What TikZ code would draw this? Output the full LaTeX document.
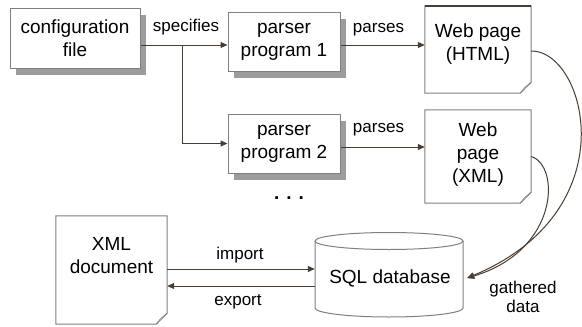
\documentclass[tikz,border=0pt]{standalone}
\usepackage{fontspec}
\setmainfont{Liberation Sans}
\usetikzlibrary{arrows.meta,calc,shadows}
\definecolor{edge}{HTML}{808080}
\definecolor{arr}{HTML}{4A3D33}
\definecolor{shad}{HTML}{9C9C9C}
\newcommand\mydoc[1]{%
  \filldraw[draw=edge, fill=white, line width=1pt] (#1.north west) -- (#1.north east) -- ($(#1.south east)+(0,-11)$) -- ($(#1.south east)+(-11,0)$) -- (#1.south west) -- cycle;
  \filldraw[draw=edge, fill=white, line width=0.8pt] ($(#1.south east)+(0,-11)$) -- ($(#1.south east)+(-7,-5)$) -- ($(#1.south east)+(-11,0)$);}
\begin{document}
\begin{tikzpicture}[x=1pt,y=-1pt,
  boxtxt/.style={font=\fontsize{19}{23}\selectfont, align=center},
  lbl/.style={font=\fontsize{17}{19}\selectfont, align=center},
  boxnode/.style={draw=edge, line width=1pt, fill=white, inner sep=0pt, boxtxt,
    drop shadow={shadow xshift=6pt, shadow yshift=-7pt, fill=shad, opacity=1}},
  area/.style={inner sep=0pt, draw=none},
  conn/.style={draw=arr, line width=1pt, -{Triangle[length=7pt,width=6pt]}},
]
\useasboundingbox[fill=white] (0,0) rectangle (582,327);

% boxes with shadows
\node[boxnode, minimum width=130pt, minimum height=60pt] (conf) at (75,38) {configuration\\file};
\node[boxnode, minimum width=112pt, minimum height=59pt] (p1) at (284,41.5) {parser\\program 1};
\node[boxnode, minimum width=112pt, minimum height=59pt] (p2) at (284,143.5) {parser\\program 2};

% documents
\node[area, minimum width=106pt, minimum height=87pt] (web1) at (478,49.5) {};
\mydoc{web1}
\draw[arr, line width=1.8pt] (web1.north west) -- (web1.north east);
\node[boxtxt] (web1t) at (478,44) {Web page\\(HTML)};

\node[area, minimum width=106pt, minimum height=93pt] (web2) at (478,156.5) {};
\mydoc{web2}
\node[boxtxt] (web2t) at (478,155) {Web\\page\\(XML)};

\node[area, minimum width=111pt, minimum height=108pt] (xml) at (111.5,270) {};
\mydoc{xml}
\node[boxtxt] (xmlt) at (111.5,256) {XML\\document};

% database cylinder
\node[area, minimum width=148pt, minimum height=85pt] (sql) at (389,274.5) {};
\filldraw[draw=edge, fill=white, line width=1pt] (315,241) -- (315,308)
  arc[start angle=180, end angle=360, x radius=74pt, y radius=9pt] -- (463,241);
\draw[edge, line width=1pt] (389,241) ellipse [x radius=74pt, y radius=8.5pt];
\node[boxtxt] (sqlt) at (390,278) {SQL database};

% dots
\node[font=\fontsize{19}{23}\selectfont\bfseries] (dots) at (289,198) {. . .};

% connectors
\coordinate (br) at (182,45);
\draw[conn] ([yshift=-7pt]conf.east) -- ([yshift=-7pt]conf.east -| p1.west);
\draw[conn] (br) |- (p2.west);
\draw[conn] ([yshift=-3.5pt]p1.east) -- ([yshift=-3.5pt]p1.east -| web1.west);
\draw[conn] ([yshift=-3.5pt]p2.east) -- ([yshift=-3.5pt]p2.east -| web2.west);
\draw[conn] ([yshift=1pt]xml.east) -- ([yshift=1pt]xml.east -| sql.west);
\draw[conn] ([yshift=-16pt]xml.east -| sql.west) -- ([yshift=-16pt]xml.east);
\coordinate (gd) at ([shift={(4pt,-3.5pt)}]sql.east);
\draw[conn] ([yshift=-1.5pt]web1.east) .. controls (585,50) and (630,210) .. (gd);
\draw[conn] (web2.east) .. controls (560,165) and (560,250) .. (gd);

% labels
\node[lbl] (l1) at (186,27) {specifies};
\node[lbl] (l2) at (378.5,30) {parses};
\node[lbl] (l3) at (378.5,130) {parses};
\node[lbl] (l4) at (240,255) {import};
\node[lbl] (l5) at (238,302) {export};
\node[lbl] (l6) at (523,297) {gathered\\data};
\end{tikzpicture}
\end{document}
